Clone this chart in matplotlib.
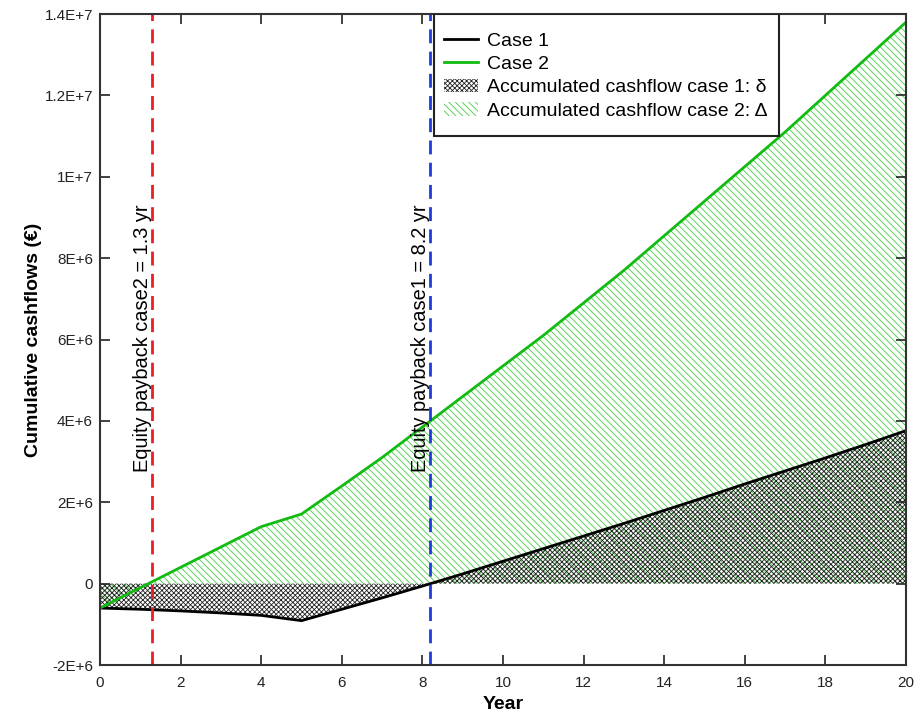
import numpy as np
import matplotlib
matplotlib.use("Agg")
import matplotlib.pyplot as plt
import matplotlib.lines as mlines
import matplotlib.patches as mpatches

plt.rcParams['font.family'] = ['Liberation Sans', 'DejaVu Sans']
plt.rcParams['hatch.linewidth'] = 0.6

# cumulative cashflows (EUR)
years = [0, 1, 2, 3, 4, 5, 6, 7, 8, 8.2, 9, 10, 11, 12, 13, 14, 15, 16, 17, 18, 19, 20]
case1 = [-0.60e6, -0.63e6, -0.67e6, -0.72e6, -0.78e6, -0.91e6, -0.63e6, -0.35e6, -0.06e6, 0.0,
         0.24e6, 0.55e6, 0.86e6, 1.17e6, 1.48e6, 1.80e6, 2.12e6, 2.45e6, 2.77e6, 3.09e6, 3.42e6, 3.76e6]
case2 = [-0.60e6, -0.10e6, 0.40e6, 0.90e6, 1.40e6, 1.71e6, 2.40e6, 3.10e6, 3.85e6, 4.0e6,
         4.60e6, 5.35e6, 6.10e6, 6.90e6, 7.70e6, 8.55e6, 9.40e6, 10.25e6, 11.10e6, 12.00e6, 12.90e6, 13.80e6]

payback1 = 8.2
payback2 = 1.3

yticks = [-2e6, 0, 2e6, 4e6, 6e6, 8e6, 1e7, 1.2e7, 1.4e7]
ytick_labels = ['-2E+6', '0', '2E+6', '4E+6', '6E+6', '8E+6', '1E+7', '1.2E+7', '1.4E+7']
xticks = [0, 2, 4, 6, 8, 10, 12, 14, 16, 18, 20]

c_green = '#11bb11'
c_hatch_green = '#44cc44'
c_hatch_black = '#222222'

fig = plt.figure(figsize=(9.19, 7.18), dpi=100)
ax = fig.add_axes([0.1088, 0.0738, 0.8771, 0.9067])

x = np.array(years)
y1 = np.array(case1)
y2 = np.array(case2)

ax.fill_between(x, 0, y2, facecolor='none', edgecolor=c_hatch_green, hatch='\\\\\\\\\\', linewidth=0)
ax.fill_between(x, 0, y1, facecolor='none', edgecolor=c_hatch_black, hatch='xxxxxxx', linewidth=0)
ax.plot(x, y1, color='k', lw=2)
ax.plot(x, y2, color=c_green, lw=2)

ax.axvline(payback2, color='#ee1c24', lw=2, dashes=(5, 3))
ax.axvline(payback1, color='#1c3cdd', lw=2, dashes=(5, 3))
ax.text(payback2, 2.75e6, 'Equity payback case2 = %.1f yr' % payback2, rotation=90,
        ha='right', va='bottom', fontsize=14.4)
ax.text(payback1, 2.75e6, 'Equity payback case1 = %.1f yr' % payback1, rotation=90,
        ha='right', va='bottom', fontsize=14.4)

ax.set_xlim(0, 20)
ax.set_ylim(-2e6, 1.4e7)
ax.set_xticks(xticks)
ax.set_xticklabels([str(t) for t in xticks])
ax.set_yticks(yticks)
ax.set_yticklabels(ytick_labels)
ax.tick_params(direction='in', length=7, width=1.2, top=True, right=True, labelsize=11, colors='#222222')
ax.tick_params(axis='x', pad=8)
ax.tick_params(axis='y', pad=5)
for s in ax.spines.values():
    s.set_linewidth(1.5)
    s.set_color('#333333')

ax.set_xlabel('Year', fontsize=14, fontweight='bold', labelpad=4)
ax.set_ylabel('Cumulative cashflows (€)', fontsize=14, fontweight='bold', labelpad=2)

handles = [
    mlines.Line2D([], [], color='k', lw=2, label='Case 1'),
    mlines.Line2D([], [], color=c_green, lw=2, label='Case 2'),
    mpatches.Patch(facecolor='none', edgecolor=c_hatch_black, hatch='xxxxxxx', lw=0,
                   label='Accumulated cashflow case 1: δ'),
    mpatches.Patch(facecolor='none', edgecolor=c_hatch_green, hatch='\\\\\\\\\\', lw=0,
                   label='Accumulated cashflow case 2: Δ'),
]
# legend frame drawn separately: more padding above/below than at the sides
ax.add_patch(mpatches.Rectangle((0.4144, 0.8126), 0.428, 0.1874, transform=ax.transAxes,
                                facecolor='white', edgecolor='#222222', lw=1.5, zorder=4))
leg = ax.legend(handles=handles, loc='upper left', bbox_to_anchor=(0.4268, 0.972), borderaxespad=0,
                fontsize=14, frameon=False, handlelength=1.75, handletextpad=0.45,
                labelspacing=0.29, borderpad=0)
leg.set_zorder(5)

fig.savefig('out.png', dpi=100)
